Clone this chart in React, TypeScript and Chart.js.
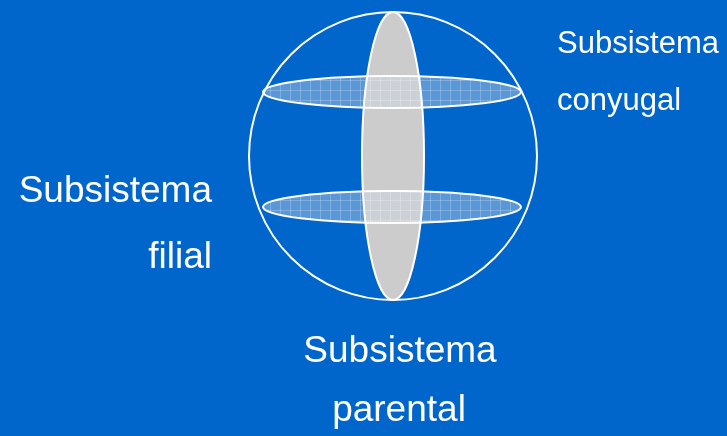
import React, { useEffect, useRef } from "react";
import { Chart, registerables } from "chart.js";

Chart.register(...registerables);

// Diagram shapes (in diagram units, 1 unit = 1 px on a 727x436 plane)
const shapeNames = ["sistema", "parental", "conyugal", "filial"];
const centerX = [393, 393, 392, 392];
const centerY = [156, 156, 92, 207];
const radiusX = [144, 31, 129, 129];
const radiusY = [144, 144, 16, 16];

// Labels
const labelTitles = ["Subsistema", "Subsistema", "Subsistema"];
const labelNames = ["conyugal", "filial", "parental"];

const BG = "#0066CC";
const GRAY = "#CCCCCC";
const FONT = '"Liberation Sans", Arial, Helvetica, sans-serif';

function makePattern(ctx: CanvasRenderingContext2D) {
  const c = document.createElement("canvas");
  c.width = 10;
  c.height = 10;
  const p = c.getContext("2d")!;
  p.fillStyle = "rgba(205,215,230,0.44)";
  p.fillRect(0, 0, 10, 10);
  p.fillStyle = "rgba(255,255,255,0.22)";
  p.fillRect(0, 0, 10, 1);
  p.fillRect(0, 0, 1, 10);
  return ctx.createPattern(c, "repeat")!;
}

const diagramPlugin = {
  id: "diagram",
  beforeDraw(chart: any) {
    const ctx = chart.ctx as CanvasRenderingContext2D;
    ctx.save();
    ctx.fillStyle = BG;
    ctx.fillRect(0, 0, chart.width, chart.height);
    ctx.restore();
  },
  afterDatasetsDraw(chart: any) {
    const ctx = chart.ctx as CanvasRenderingContext2D;
    const xs = chart.scales.x;
    const ys = chart.scales.y;
    const geo = shapeNames.map((_, i) => {
      const cx = xs.getPixelForValue(centerX[i]);
      const cy = ys.getPixelForValue(centerY[i]);
      const rx = Math.abs(xs.getPixelForValue(centerX[i] + radiusX[i]) - cx);
      const ry = Math.abs(ys.getPixelForValue(centerY[i] + radiusY[i]) - cy);
      return { cx, cy, rx, ry };
    });
    const path = (g: any) => {
      ctx.beginPath();
      ctx.ellipse(g.cx, g.cy, g.rx, g.ry, 0, 0, Math.PI * 2);
    };
    ctx.save();
    // fills
    path(geo[1]);
    ctx.fillStyle = GRAY;
    ctx.fill();
    const pat = makePattern(ctx);
    for (const i of [2, 3]) {
      path(geo[i]);
      ctx.fillStyle = pat;
      ctx.fill();
    }
    // strokes
    ctx.strokeStyle = "#FFFFFF";
    ctx.lineWidth = 2;
    for (const i of [1, 2, 3, 0]) {
      path(geo[i]);
      ctx.stroke();
    }
    // labels
    ctx.fillStyle = "#FFFFFF";
    ctx.textBaseline = "alphabetic";
    // top right
    ctx.font = `31px ${FONT}`;
    ctx.textAlign = "left";
    ctx.fillText(labelTitles[0], 557, 53);
    ctx.fillText(labelNames[0], 557, 110);
    // left
    ctx.font = `37px ${FONT}`;
    ctx.textAlign = "right";
    ctx.fillText(labelTitles[1], 212, 202);
    ctx.fillText(labelNames[1], 212, 268);
    // bottom
    ctx.textAlign = "center";
    ctx.fillText(labelTitles[2], 400, 362);
    ctx.fillText(labelNames[2], 399, 421);
    ctx.restore();
  },
};

export default function App() {
  const ref = useRef<HTMLCanvasElement | null>(null);
  useEffect(() => {
    if (!ref.current) return;
    const chart = new Chart(ref.current, {
      type: "scatter",
      data: { datasets: [{ data: [] }] },
      options: {
        animation: false,
        responsive: false,
        layout: { padding: 0 },
        plugins: { legend: { display: false }, tooltip: { enabled: false } },
        scales: {
          x: { type: "linear", min: 0, max: 727, display: false },
          y: { type: "linear", min: 0, max: 436, reverse: true, display: false },
        },
      },
      plugins: [diagramPlugin],
    });
    return () => chart.destroy();
  }, []);
  return (
    <div style={{ position: "fixed", left: 0, top: 0, width: 727, height: 436, background: BG }}>
      <canvas ref={ref} width={727} height={436} style={{ display: "block", width: 727, height: 436 }} />
    </div>
  );
}
